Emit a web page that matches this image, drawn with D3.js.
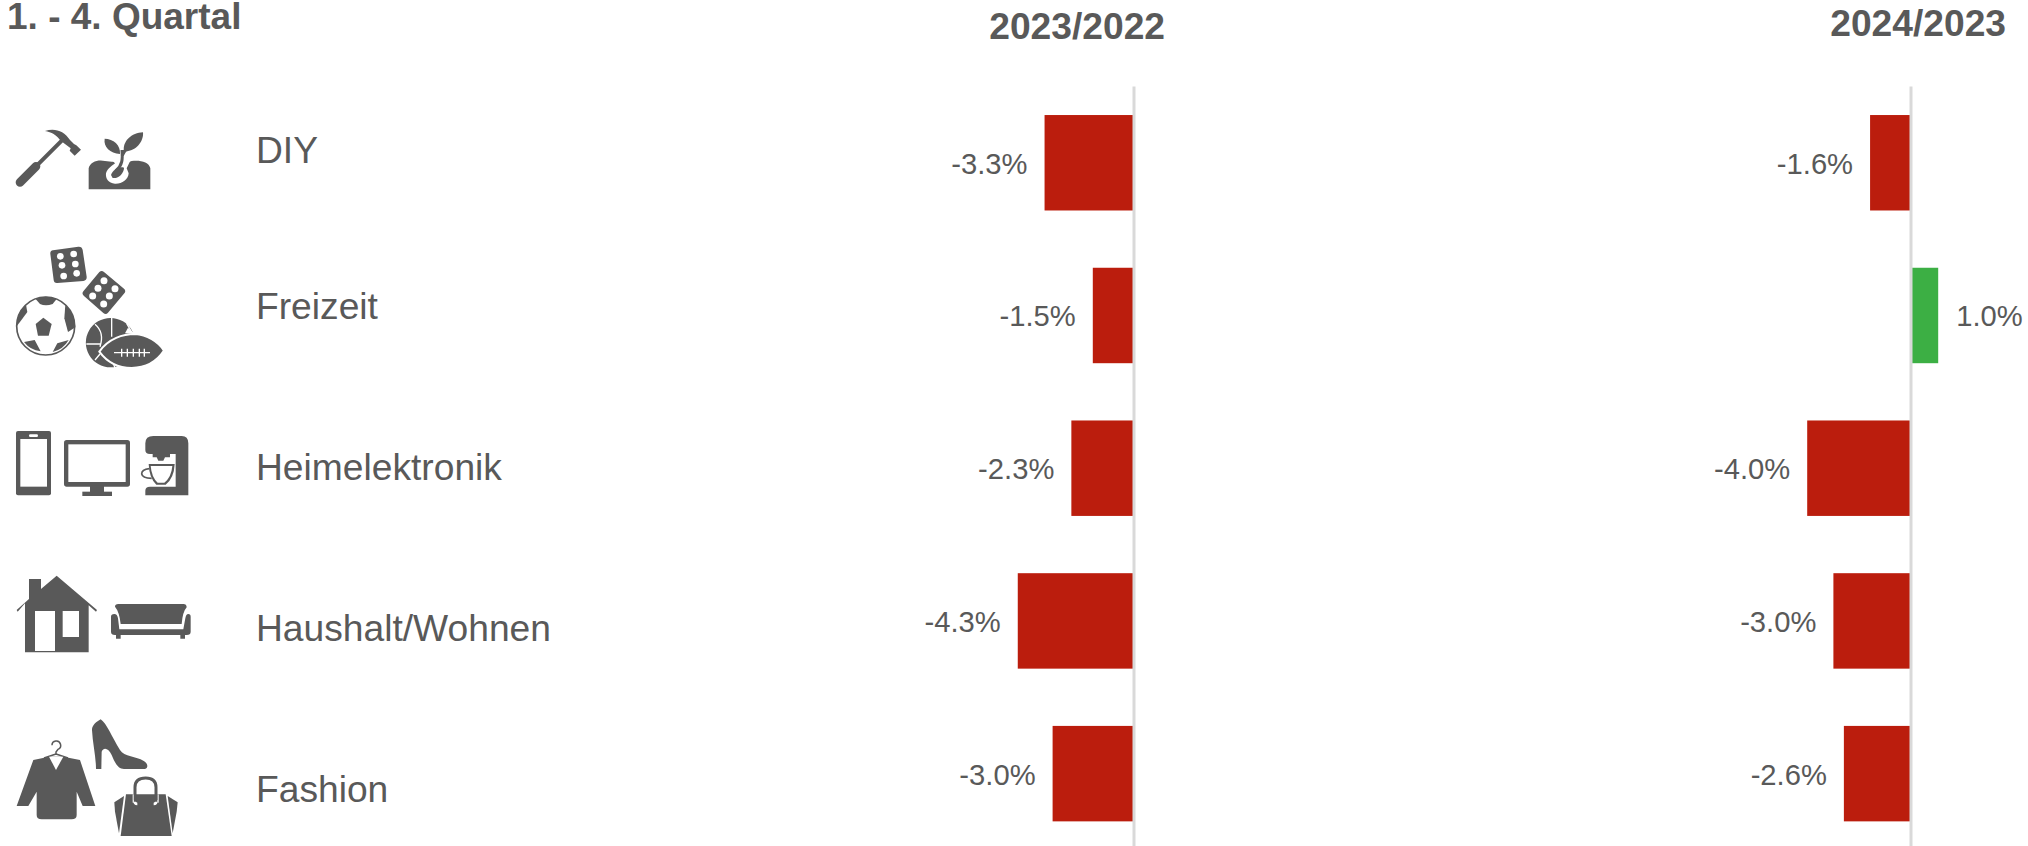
<!DOCTYPE html>
<html>
<head>
<meta charset="utf-8">
<script src="https://cdn.jsdelivr.net/npm/d3@7"></script>
<style>
  html, body { margin: 0; padding: 0; background: #fff; overflow: hidden; }
  svg { display: block; }
  text { font-family: "Liberation Sans", Arial, sans-serif; fill: #595959; }
</style>
</head>
<body>
<svg id="chart" width="2028" height="846"></svg>
<script>
var title = "1. - 4. Quartal";
var categories = ["DIY", "Freizeit", "Heimelektronik", "Haushalt/Wohnen", "Fashion"];
var periods = ["2023/2022", "2024/2023"];
var values2023 = [-3.3, -1.5, -2.3, -4.3, -3.0];
var values2024 = [-1.6, 1.0, -4.0, -3.0, -2.6];

var grey = "#595959";
var red = "#bb1d0d";
var green = "#3caf44";

var svg = d3.select("#chart");

// rows are shared by both panels
var y = d3.scaleBand()
    .domain(categories)
    .range([86.4, 850])
    .paddingInner(0.375)
    .paddingOuter(0.1875);

// baselines of the category names are not quite evenly spaced in the original
var nameShift = [0.5, 4, 12, 20, 28.5];

svg.append("text")
    .attr("x", 7)
    .attr("y", 29)
    .style("font-size", "37px")
    .style("font-weight", "bold")
    .text(title);

svg.selectAll(".name")
    .data(categories)
    .enter().append("text")
    .attr("class", "name")
    .attr("x", 256)
    .attr("y", (d, i) => y(d) + y.bandwidth() / 2 + nameShift[i])
    .style("font-size", "37.2px")
    .text(d => d);

function drawPanel(values, period, zero, pxPerUnit, lineShift, headerX, headerY) {
    var x = d3.scaleLinear()
        .domain([-5, 2])
        .range([zero - 5 * pxPerUnit, zero + 2 * pxPerUnit]);

    svg.append("text")
        .attr("x", headerX)
        .attr("y", headerY)
        .attr("text-anchor", "end")
        .style("font-size", "37.2px")
        .style("font-weight", "bold")
        .text(period);

    svg.append("g").selectAll("rect")
        .data(values)
        .enter().append("rect")
        .attr("x", d => Math.min(x(d), x(0)))
        .attr("y", (d, i) => y(categories[i]))
        .attr("width", d => Math.abs(x(d) - x(0)))
        .attr("height", y.bandwidth())
        .attr("fill", d => d < 0 ? red : green);

    // zero line goes over the bars
    var axis = svg.append("g")
        .attr("transform", "translate(" + (x(0) + lineShift) + ",0)")
        .call(d3.axisLeft(y).tickValues([]).tickSize(0).offset(0));
    axis.select(".domain").attr("stroke", "#d9d9d9").attr("stroke-width", 3);

    svg.append("g").selectAll("text")
        .data(values)
        .enter().append("text")
        .attr("x", d => d < 0 ? x(d) - 17 : x(d) + 18)
        .attr("y", (d, i) => y(categories[i]) + y.bandwidth() / 2 + 11)
        .attr("text-anchor", d => d < 0 ? "end" : "start")
        .style("font-size", "29.2px")
        .text(d => d.toFixed(1) + "%");
}

drawPanel(values2023, periods[0], 1133, 26.8, 1, 1165, 39);
drawPanel(values2024, periods[1], 1912, 26.2, -1, 2006, 36);

// ---- icons, drawn in zoomed-up pixels and scaled down by three ----
function iconGroup(dy) {
    return svg.append("g")
        .attr("transform", "translate(0," + dy + ") scale(0.33333)");
}
function dark(g, d) {
    return g.append("path").attr("d", d).attr("fill", grey);
}
function white(g, d) {
    return g.append("path").attr("d", d).attr("fill", "#fff");
}
function line(g, d, width, colour) {
    return g.append("path").attr("d", d)
        .attr("fill", "none")
        .attr("stroke", colour || grey)
        .attr("stroke-width", width);
}
function dot(g, cx, cy, r, colour) {
    g.append("circle").attr("cx", cx).attr("cy", cy).attr("r", r).attr("fill", colour);
}

function drawDiy() {
    var g = iconGroup(0);
    // hammer
    line(g, "M60 547 L108 499", 26).attr("stroke-linecap", "round");
    line(g, "M105 502 L195 412", 12);
    dark(g, "M135 393 C165 383 192 393 210 420 L222 432 L229 436 L243 449 L224 467 L209 452 L212 445 L200 436 L190 428 L178 418 C170 405 155 397 135 393Z");
    // soil and sprout
    dark(g, "M266 568 L266 505 C270 485 295 478 315 483 L335 485 L385 487 L395 483 C420 480 447 485 451 505 L451 568Z");
    white(g, "M333 478 L392 480 L380 505 L386 520 C385 540 365 552 345 551 C325 550 316 535 318 520 C322 505 340 495 345 490Z");
    dark(g, "M333 525 C338 510 355 498 372 503 C372 520 355 537 338 534Z");
    line(g, "M348 512 C368 495 368 478 366 450 M366 470 C372 450 385 440 395 430", 9);
    dark(g, "M360 462 C330 460 310 440 314 416 C340 416 362 435 360 462Z");
    dark(g, "M372 454 C366 425 395 398 429 397 C432 425 405 457 372 454Z");
}

function drawFreizeit() {
    var g = iconGroup(230);
    // two dice
    dark(g, "M159 61 L235 50 Q246 49 248 60 L260 140 Q261 151 250 153 L172 159 Q162 160 161 150 L151 72 Q150 62 159 61Z");
    [[181, 79], [221, 72], [186, 106], [226, 102], [191, 138], [230, 130]].forEach(p => dot(g, p[0], p[1], 10, "#fff"));
    dark(g, "M298 126 Q305 120 312 126 L372 176 Q379 182 373 190 L324 248 Q318 255 310 249 L252 198 Q244 191 250 184Z");
    [[312, 152], [345, 176], [294, 175], [328, 198], [278, 198], [311, 222]].forEach(p => dot(g, p[0], p[1], 10.5, "#fff"));
    // football
    g.append("circle").attr("cx", 137).attr("cy", 288).attr("r", 87)
        .attr("fill", "#fff").attr("stroke", grey).attr("stroke-width", 5);
    dark(g, "M130 263 L155 282 L146 317 L114 317 L107 282Z");
    dark(g, "M107 207 Q137 193 170 207 L158 222 Q137 230 120 222Z");
    dark(g, "M78 224 Q50 250 49 290 L66 268 L82 246Z");
    dark(g, "M196 224 Q226 255 226 292 L204 306 L193 265Z");
    dark(g, "M72 336 L104 330 L122 364 Q90 360 72 336Z");
    dark(g, "M158 366 L172 340 L206 330 Q190 358 158 366Z");
    // basketball behind american football
    dark(g, "M332 264 A74 74 0 1 1 331 264Z");
    line(g, "M285 283 C305 300 310 320 300 350 M259 342 L302 342 M335 262 L335 320 M285 390 L300 372 M380 280 L398 312 M340 400 L345 414", 4, "#fff");
    white(g, "M384 293 L405 312 L375 310Z");
    dark(g, "M298 365 C325 325 370 312 405 312 C440 314 475 335 492 362 C470 395 435 414 395 414 C355 414 320 395 298 365Z")
        .attr("stroke", "#fff").attr("stroke-width", 6);
    line(g, "M342 368 L450 368 M365 356 L365 380 M382 356 L382 380 M400 356 L400 380 M418 356 L418 380 M433 356 L433 380", 4, "#fff");
}

function drawHeimelektronik() {
    var g = iconGroup(230);
    // phone
    g.append("rect").attr("x", 48).attr("y", 603).attr("width", 105).attr("height", 193).attr("rx", 6).attr("fill", grey);
    g.append("rect").attr("x", 61).attr("y", 627).attr("width", 80).attr("height", 143).attr("fill", "#fff");
    g.append("rect").attr("x", 87).attr("y", 613).attr("width", 27).attr("height", 8).attr("rx", 4).attr("fill", "#fff");
    // screen
    g.append("rect").attr("x", 192).attr("y", 630).attr("width", 198).attr("height", 140).attr("rx", 8).attr("fill", grey);
    g.append("rect").attr("x", 205).attr("y", 643).attr("width", 172).attr("height", 113).attr("fill", "#fff");
    g.append("rect").attr("x", 270).attr("y", 768).attr("width", 42).attr("height", 20).attr("fill", grey);
    g.append("rect").attr("x", 247).attr("y", 785).attr("width", 89).attr("height", 13).attr("fill", grey);
    // coffee machine
    dark(g, "M436 640 Q436 618 460 618 L545 618 Q565 618 565 640 L565 796 L436 796 L436 782 Q436 770 450 770 L527 770 L527 672 L450 672 Q436 672 436 660Z");
    dark(g, "M458 672 L510 672 L510 682 L495 682 L490 692 L475 692 L470 682 L458 682Z");
    dark(g, "M446 702 L524 702 Q522 745 497 764 L469 764 Q448 745 446 702Z");
    white(g, "M452 708 L517 708 Q514 742 493 758 L473 758 Q455 742 452 708Z");
    line(g, "M448 716 Q425 718 425 732 Q427 745 455 745", 5);
}

function drawHaushalt() {
    var g = iconGroup(550);
    // house
    dark(g, "M170 77 L291 180 L288 185 L266 166 L266 307 L75 307 L75 160 L53 185 L50 180 L87 147 L87 87 L123 87 L123 117Z");
    white(g, "M105 183 H165 V303 H105Z");
    white(g, "M188 183 H237 V261 H188Z");
    // sofa
    dark(g, "M345 170 Q345 162 355 162 L550 162 Q560 162 560 172 Q548 185 545 222 L362 222 Q358 185 345 170Z");
    dark(g, "M333 200 Q333 192 343 192 Q352 192 354 205 L358 238 L550 238 L556 205 Q558 192 565 192 Q572 192 572 200 L572 245 Q572 255 560 255 L345 255 Q333 255 333 245Z");
    dark(g, "M348 255 H362 V266 H348Z M541 255 H555 V266 H541Z");
}

function drawFashion() {
    var g = iconGroup(550);
    // shoe
    dark(g, "M302 508 C320 520 335 560 360 600 C372 620 410 620 430 632 C445 640 445 655 435 657 L372 657 C355 657 345 640 335 615 C325 595 312 590 305 605 L304 657 L288 657 C288 620 278 580 276 540 C276 525 290 515 302 508Z");
    // jacket on hanger
    line(g, "M156 586 A13 13 0 1 1 174 598 L168 606 L168 612 M168 612 L132 624 M168 612 L204 624", 4.5);
    dark(g, "M100 630 L147 620 L190 620 L240 630 L286 768 L248 768 L230 725 L230 795 Q230 808 215 808 L125 808 Q110 808 110 795 L110 725 L85 768 L50 768Z");
    white(g, "M147 620 L190 620 L168 660Z");
    // bag
    dark(g, "M378 733 L497 733 L515 858 L362 858Z");
    dark(g, "M372 738 L343 757 L345 785 L357 850Z");
    dark(g, "M503 738 L533 757 L530 785 L518 850Z");
    line(g, "M403 750 Q403 762 412 762 M470 750 Q470 762 461 762", 8, "#fff");
    line(g, "M405 755 L405 712 Q405 684 437 684 Q468 684 468 712 L468 755", 9);
    g.append("rect").attr("x", 398).attr("y", 733).attr("width", 3).attr("height", 25).attr("fill", "#fff");
    g.append("rect").attr("x", 473).attr("y", 733).attr("width", 3).attr("height", 25).attr("fill", "#fff");
}

drawDiy();
drawFreizeit();
drawHeimelektronik();
drawHaushalt();
drawFashion();
</script>
</body>
</html>
